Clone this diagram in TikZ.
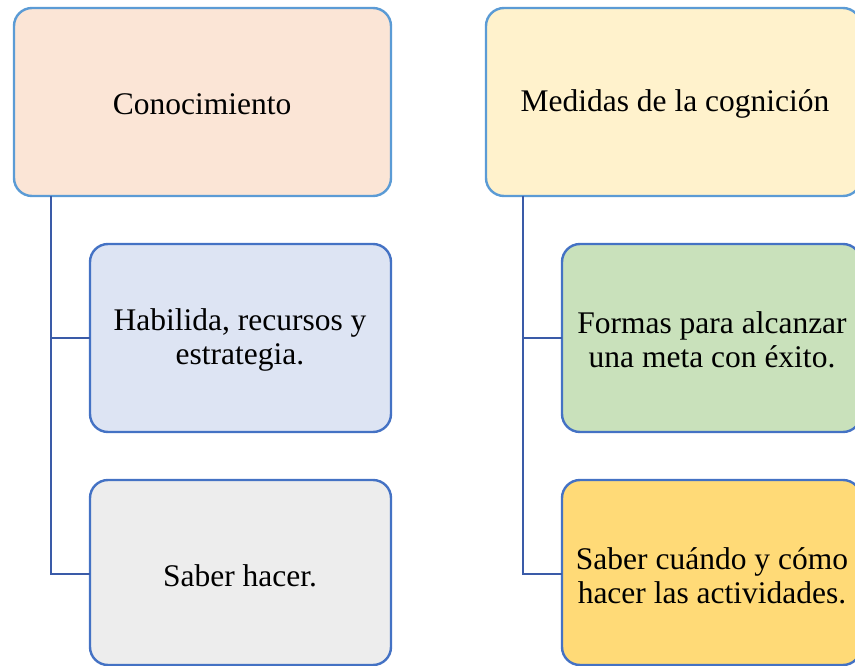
\documentclass[tikz,border=0pt]{standalone}
\usepackage{fontspec}
\setmainfont{Liberation Serif}
\definecolor{topline}{HTML}{5B9BD5}
\definecolor{childline}{HTML}{4472C4}
\definecolor{conn}{HTML}{3A5BA8}
\definecolor{fpeach}{HTML}{FBE5D6}
\definecolor{fblue}{HTML}{DDE4F3}
\definecolor{fgray}{HTML}{EDEDED}
\definecolor{fcream}{HTML}{FFF2CC}
\definecolor{fgreen}{HTML}{C9E1BB}
\definecolor{fyellow}{HTML}{FFDA77}
\begin{document}
\begin{tikzpicture}[x=1pt,y=-1pt,
  box/.style={rounded corners=18pt,line width=2.4pt},
  topbox/.style={box,draw=topline},
  childbox/.style={box,draw=childline},
  lbl/.style={font=\fontsize{31.5}{34}\selectfont,align=center,inner sep=0pt},
  connector/.style={draw=conn,line width=2.4pt}]
\useasboundingbox (0,0) rectangle (855,666);
% left group
\draw[topbox,fill=fpeach] (14,8) rectangle (391,196);
\draw[childbox,fill=fblue] (90,244) rectangle (391,432);
\draw[childbox,fill=fgray] (90,480) rectangle (391,665);
\node[lbl] (k) at (202,104) {Conocimiento};
\node[lbl] (k1) at (240,340) {Habilida, recursos y\\estrategia.};
\node[lbl] (k2) at (240,576) {Saber hacer.};
\coordinate (kt) at (51,196);
\coordinate (k1l) at (90,338);
\coordinate (k2l) at (90,574);
\draw[connector] (kt) |- (k1l);
\draw[connector] (kt) |- (k2l);
% right group
\draw[topbox,fill=fcream] (486,8) rectangle (861,196);
\draw[childbox,fill=fgreen] (562,244) rectangle (861,432);
\draw[childbox,fill=fyellow] (562,480) rectangle (861,665);
\node[lbl] (m) at (675,104) {Medidas de la cognición};
\node[lbl] (m1) at (712,340) {Formas para alcanzar\\una meta con éxito.};
\node[lbl] (m2) at (712,576) {Saber cuándo y cómo\\hacer las actividades.};
\coordinate (mt) at (523,196);
\coordinate (m1l) at (562,338);
\coordinate (m2l) at (562,574);
\draw[connector] (mt) |- (m1l);
\draw[connector] (mt) |- (m2l);
\end{tikzpicture}
\end{document}
